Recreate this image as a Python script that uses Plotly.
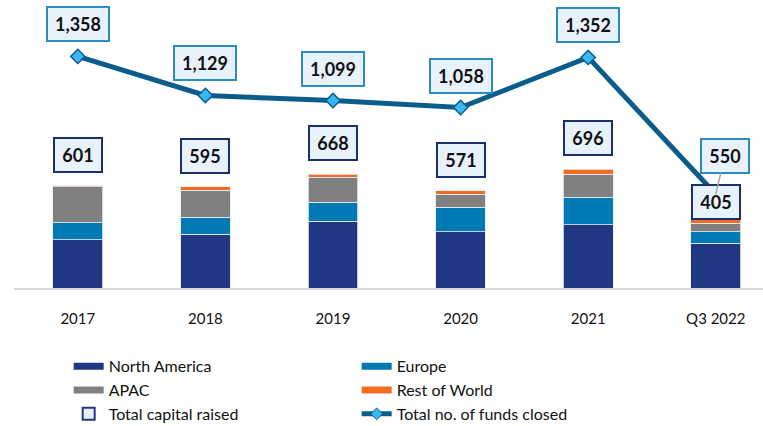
import plotly.graph_objects as go

categories = ["2017", "2018", "2019", "2020", "2021", "Q3 2022"]
north_america = [282, 314, 391, 329, 371, 262]
europe = [100, 101, 111, 144, 162, 67]
apac = [212, 159, 148, 78, 134, 50]
rest_of_world = [7, 21, 18, 20, 29, 26]
total_capital = [601, 595, 668, 571, 696, 405]
funds_closed = [1358, 1129, 1099, 1058, 1352, 550]

NAVY = "#203784"
EUR = "#0079b4"
GREY = "#808080"
ORANGE = "#f26b21"
LINE = "#0a5d8b"
FONT = "Lato"

fig = go.Figure()

series = [("North America", north_america, NAVY),
          ("Europe", europe, EUR),
          ("APAC", apac, GREY),
          ("Rest of World", rest_of_world, ORANGE)]

for name, vals, col in series:
    fig.add_trace(go.Bar(x=categories, y=vals, name=name, marker_color=col,
                         marker_line=dict(color="rgba(230,235,245,0.8)", width=1),
                         width=0.39, showlegend=False))

fig.add_trace(go.Scatter(x=categories, y=funds_closed, mode="lines+markers",
                         line=dict(color=LINE, width=5),
                         marker=dict(symbol="diamond", size=11, color="#3bb7f3",
                                     line=dict(color=LINE, width=1.5)),
                         showlegend=False, name="Total no. of funds closed"))

# legend entries
for name, vals, col in series:
    fig.add_trace(go.Scatter(x=[None], y=[None], mode="lines", name=name,
                             line=dict(color=col, width=7)))
fig.add_trace(go.Bar(x=[None], y=[None], name="Total capital raised",
                     marker=dict(color="#e8f2fd", line=dict(color=NAVY, width=2))))
fig.add_trace(go.Scatter(x=[None], y=[None], mode="lines+markers",
                         name="Total no. of funds closed",
                         line=dict(color=LINE, width=5),
                         marker=dict(symbol="diamond", size=9, color="#3bb7f3",
                                     line=dict(color=LINE, width=1))))

annotations = []
for i, t in enumerate(total_capital):
    shift = 17 if i == len(categories) - 1 else 31
    annotations.append(dict(x=i, y=t, text=f"<b>{t:,}</b>", showarrow=False,
                            yshift=shift, font=dict(family=FONT, size=18, color="#111"),
                            bgcolor="#e8f2fd", bordercolor="#1b2f6e", borderwidth=2,
                            borderpad=5, width=36))
for i, f in enumerate(funds_closed):
    if i == len(categories) - 1:
        annotations.append(dict(x=i, y=f, text=f"<b>{f:,}</b>", showarrow=True,
                                arrowhead=0, arrowcolor="#a6a6a6", arrowwidth=1.5,
                                ax=9, ay=-38, standoff=0,
                                font=dict(family=FONT, size=18, color="#111"),
                                bgcolor="#e8f2fd", bordercolor="#2a8cc4", borderwidth=2,
                                borderpad=5, width=36))
    else:
        annotations.append(dict(x=i, y=f, text=f"<b>{f:,}</b>", showarrow=False,
                                yshift=32, font=dict(family=FONT, size=18, color="#111"),
                                bgcolor="#e8f2fd", bordercolor="#2a8cc4", borderwidth=2,
                                borderpad=5, width=50))

fig.update_layout(
    width=763, height=426,
    barmode="stack",
    plot_bgcolor="white", paper_bgcolor="white",
    margin=dict(l=14, r=0, t=10, b=138, autoexpand=False),
    font=dict(family=FONT, size=15, color="#111"),
    annotations=annotations,
    legend=dict(orientation="h", xref="container", yref="container",
                traceorder="normal",
                x=0.09, y=0.18, xanchor="left", yanchor="top",
                entrywidth=243, entrywidthmode="pixels",
                font=dict(family=FONT, size=16, color="#111"),
                bgcolor="rgba(0,0,0,0)"),
    xaxis=dict(type="category", range=[-0.5, 5.37], showgrid=False, showline=True,
               linecolor="#d9d9d9", linewidth=2, ticks="",
               ticklabelstandoff=16, tickfont=dict(family=FONT, size=15, color="#111")),
    yaxis=dict(range=[0, 1630], visible=False, showgrid=False),
)

fig.write_html("out.html", config={"displayModeBar": False},
               post_script="document.body.style.margin='0';document.body.style.overflow='hidden';")
